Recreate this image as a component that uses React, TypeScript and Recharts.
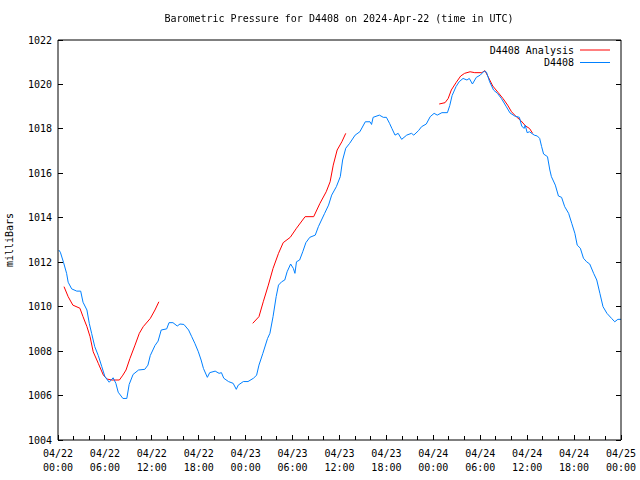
import React from 'react';
import { LineChart, Line, XAxis, YAxis, Legend } from 'recharts';

const FONT = '"DejaVu Sans Mono", "Liberation Mono", monospace';

// D4408 observed pressure (hours since 2024-04-22 00:00 UTC)
const stationHours = [
  0.1, 0.3, 0.7, 1.1, 1.3, 1.75, 2.4, 2.9, 3.2, 3.7, 4.0, 4.3, 4.7, 5.15, 5.6, 6.0, 6.55, 7.05, 7.4, 7.7,
  8.3, 8.8, 9.1, 9.6, 10.3, 11.1, 11.5, 11.8, 12.4, 12.8, 13.2, 13.9, 14.2, 14.7, 15.25, 15.6, 16.1, 16.7, 17.1, 17.5,
  17.95, 18.3, 18.6, 19.1, 19.4, 20.1, 20.6, 20.9, 21.2, 21.8, 22.4, 22.8, 23.05, 23.7, 24.3, 25.0, 25.4, 25.7, 26.2, 26.8,
  27.1, 27.5, 27.9, 28.2, 28.6, 29.0, 29.3, 29.75, 30.1, 30.3, 30.5, 30.9, 31.3, 31.7, 32.2, 32.9, 33.3, 33.7, 34.1, 34.6,
  35.0, 35.6, 36.1, 36.4, 36.8, 37.3, 38.0, 38.6, 39.3, 39.9, 40.1, 40.3, 41.1, 41.6, 42.0, 42.4, 42.7, 43.1, 43.5, 43.95,
  44.6, 45.2, 45.5, 46.1, 46.5, 47.1, 47.6, 48.1, 48.5, 49.1, 49.8, 50.1, 50.4, 50.9, 51.3, 51.8, 52.3, 52.6, 53.0, 53.5,
  54.0, 54.5, 54.8, 55.2, 55.7, 56.2, 56.7, 57.3, 57.8, 58.4, 59.0, 59.3, 59.6, 59.75, 60.0, 60.3, 60.9, 61.3, 61.6, 61.85,
  62.1, 62.6, 62.9, 63.1, 63.6, 64.0, 64.4, 64.8, 65.3, 65.7, 66.1, 66.4, 66.8, 67.2, 67.6, 68.0, 68.5, 68.9, 69.3, 69.7,
  70.2, 70.8, 71.2, 71.6, 72.0,
];
const stationPressure = [
  1012.55, 1012.45, 1012.0, 1011.5, 1011.1, 1010.8, 1010.7, 1010.7, 1010.2, 1009.85, 1009.25, 1008.8, 1008.2, 1007.8, 1007.3, 1006.85, 1006.6, 1006.8, 1006.55, 1006.15,
  1005.87, 1005.87, 1006.5, 1006.95, 1007.15, 1007.18, 1007.37, 1007.8, 1008.25, 1008.45, 1008.95, 1009.0, 1009.28, 1009.28, 1009.13, 1009.22, 1009.2, 1008.95, 1008.65, 1008.35,
  1007.97, 1007.6, 1007.22, 1006.82, 1007.03, 1007.1, 1007.0, 1007.03, 1006.78, 1006.63, 1006.55, 1006.28, 1006.47, 1006.63, 1006.63, 1006.78, 1006.92, 1007.37, 1007.9, 1008.57,
  1008.8, 1009.55, 1010.45, 1010.97, 1011.12, 1011.2, 1011.57, 1011.92, 1011.72, 1011.5, 1012.02, 1012.1, 1012.47, 1012.88, 1013.12, 1013.22, 1013.6, 1013.9, 1014.2, 1014.57,
  1015.02, 1015.4, 1015.85, 1016.6, 1017.13, 1017.35, 1017.72, 1017.87, 1018.32, 1018.32, 1018.2, 1018.52, 1018.62, 1018.52, 1018.52, 1018.25, 1018.02, 1017.72, 1017.8, 1017.53,
  1017.72, 1017.8, 1017.72, 1017.92, 1018.1, 1018.22, 1018.55, 1018.7, 1018.62, 1018.73, 1018.73, 1019.05, 1019.5, 1019.9, 1020.12, 1020.27, 1020.2, 1020.27, 1020.02, 1020.32,
  1020.42, 1020.6, 1020.55, 1020.12, 1019.75, 1019.6, 1019.37, 1019.02, 1018.72, 1018.58, 1018.52, 1018.13, 1018.02, 1018.17, 1017.83, 1017.87, 1017.72, 1017.68, 1017.57, 1017.2,
  1016.87, 1016.75, 1016.15, 1015.85, 1015.47, 1014.98, 1014.92, 1014.5, 1014.2, 1013.75, 1013.3, 1012.77, 1012.63, 1012.18, 1012.02, 1011.92, 1011.5, 1011.2, 1010.6, 1010.0,
  1009.7, 1009.47, 1009.32, 1009.43, 1009.43,
];

// D4408 Analysis (null marks a gap between analysis segments)
const analysisHours = [
  0.77, 1.3, 1.9, 2.8, 3.2, 3.7, 4.1, 4.5, 5.15, 5.8, 6.3, 6.9, 7.85, 8.3, 8.7, 9.2, 9.85, 10.4, 10.9, 11.8, 12.4, 12.9,
  18,
  24.9, 25.7, 26.25, 26.9, 27.5, 28.2, 28.8, 29.7, 30.5, 31.6, 32.7, 33.5, 34.3, 34.8, 35.2, 35.7, 36.3, 36.8,
  42,
  48.75, 49.5, 49.9, 50.3, 50.9, 51.5, 52.0, 52.7, 53.3, 54.2, 54.6, 55.0, 55.6, 56.3, 56.9, 57.5, 58.0, 58.6, 59.2, 59.8, 60.3, 60.7,
];
const analysisPressure: (number | null)[] = [
  1010.9, 1010.45, 1010.07, 1009.93, 1009.55, 1009.1, 1008.65, 1007.97, 1007.45, 1006.92, 1006.74, 1006.7, 1006.7, 1006.92, 1007.15, 1007.67, 1008.27, 1008.8, 1009.1, 1009.47, 1009.85, 1010.22,
  null,
  1009.25, 1009.55, 1010.22, 1010.97, 1011.72, 1012.4, 1012.88, 1013.12, 1013.53, 1014.05, 1014.05, 1014.65, 1015.17, 1015.62, 1016.37, 1017.05, 1017.42, 1017.8,
  null,
  1019.12, 1019.18, 1019.37, 1019.75, 1020.08, 1020.38, 1020.5, 1020.57, 1020.53, 1020.53, 1020.62, 1020.35, 1019.93, 1019.63, 1019.37, 1019.07, 1018.77, 1018.55, 1018.37, 1018.13, 1018.02, 1017.8,
];

const xTickHours = Array.from({ length: 37 }, (_, i) => i * 2);
const yTicks = [1004, 1006, 1008, 1010, 1012, 1014, 1016, 1018, 1020, 1022];
const dayLabels = ['04/22', '04/23', '04/24', '04/25'];
const timeLabels = ['00:00', '06:00', '12:00', '18:00'];
const titleText = 'Barometric Pressure for D4408 on 2024-Apr-22 (time in UTC)';
const yAxisLabel = 'milliBars';
const seriesNames = ['D4408 Analysis', 'D4408'];
const seriesColors = ['#ff0000', '#0080ff'];

const stationData = stationHours.map((h, i) => ({ h, p: stationPressure[i] }));
const analysisData = analysisHours.map((h, i) => ({ h, p: analysisPressure[i] }));

const BottomTick = (props: any) => {
  const { x, y, payload } = props;
  const h = payload.value as number;
  const major = h % 6 === 0;
  return (
    <g>
      <line x1={x} x2={x} y1={y} y2={y - (major ? 5 : 4)} stroke="#000" shapeRendering="crispEdges" />
      {major && (
        <text x={x} y={y} textAnchor="middle" fontSize={10} fontFamily={FONT} fill="#000">
          <tspan x={x} dy={16.5}>{dayLabels[Math.floor(h / 24)]}</tspan>
          <tspan x={x} dy={14}>{timeLabels[(h % 24) / 6]}</tspan>
        </text>
      )}
    </g>
  );
};

const TopTick = (props: any) => {
  const { x, y, payload } = props;
  const major = (payload.value as number) % 6 === 0;
  return <line x1={x} x2={x} y1={y} y2={y + (major ? 5 : 4)} stroke="#000" shapeRendering="crispEdges" />;
};

const LeftTick = (props: any) => {
  const { x, y, payload } = props;
  return (
    <g>
      <line x1={x} x2={x + 5} y1={y} y2={y} stroke="#000" shapeRendering="crispEdges" />
      <text x={x - 6} y={y} dy={3.5} textAnchor="end" fontSize={10} fontFamily={FONT} fill="#000">
        {payload.value}
      </text>
    </g>
  );
};

const RightTick = (props: any) => {
  const { x, y } = props;
  return <line x1={x} x2={x - 5} y1={y} y2={y} stroke="#000" shapeRendering="crispEdges" />;
};

const LegendBox = () => (
  <svg width={210} height={32} style={{ display: 'block' }}>
    {seriesNames.map((name, i) => (
      <g key={name}>
        <text x={166} y={10 + i * 12.5} dy={3.5} textAnchor="end" fontSize={10} fontFamily={FONT} fill="#000">
          {name}
        </text>
        <line x1={172} x2={202} y1={10 + i * 12.5} y2={10 + i * 12.5} stroke={seriesColors[i]} strokeWidth={1} />
      </g>
    ))}
  </svg>
);

export default function App() {
  return (
    <div
      style={{
        position: 'fixed',
        left: 0,
        top: 0,
        width: 640,
        height: 480,
        fontFamily: FONT,
        background: '#fff',
        overflow: 'visible',
      }}
    >
      <LineChart width={640} height={480} margin={{ top: 30, right: 9, bottom: 10, left: 8 }}>
        <XAxis
          xAxisId="b"
          dataKey="h"
          type="number"
          orientation="bottom"
          domain={[0, 72]}
          ticks={xTickHours}
          interval={0}
          height={30}
          tickSize={0}
          tickMargin={0}
          tickLine={false}
          tick={<BottomTick />}
          axisLine={{ stroke: '#000' }}
          allowDataOverflow
        />
        <XAxis
          xAxisId="t"
          type="number"
          orientation="top"
          domain={[0, 72]}
          ticks={xTickHours}
          interval={0}
          height={10}
          tickSize={0}
          tickMargin={0}
          tickLine={false}
          tick={<TopTick />}
          axisLine={{ stroke: '#000' }}
          allowDataOverflow
        />
        <YAxis
          yAxisId="l"
          type="number"
          domain={[1004, 1022]}
          ticks={yTicks}
          interval={0}
          width={50}
          tickSize={0}
          tickMargin={0}
          tickLine={false}
          tick={<LeftTick />}
          axisLine={{ stroke: '#000' }}
          allowDataOverflow
        />
        <YAxis
          yAxisId="r"
          type="number"
          orientation="right"
          domain={[1004, 1022]}
          ticks={yTicks}
          interval={0}
          width={10}
          tickSize={0}
          tickMargin={0}
          tickLine={false}
          tick={<RightTick />}
          axisLine={{ stroke: '#000' }}
          allowDataOverflow
        />
        <Line
          xAxisId="b"
          yAxisId="l"
          data={analysisData}
          dataKey="p"
          name={seriesNames[0]}
          stroke={seriesColors[0]}
          strokeWidth={1}
          dot={false}
          activeDot={false}
          connectNulls={false}
          isAnimationActive={false}
        />
        <Line
          xAxisId="b"
          yAxisId="l"
          data={stationData}
          dataKey="p"
          name={seriesNames[1]}
          stroke={seriesColors[1]}
          strokeWidth={1}
          dot={false}
          activeDot={false}
          isAnimationActive={false}
        />
        <Legend
          layout="horizontal"
          verticalAlign="middle"
          content={<LegendBox />}
          wrapperStyle={{ position: 'absolute', left: 408, top: 40, width: 210, height: 32 }}
        />
      </LineChart>
      <div
        style={{
          position: 'absolute',
          left: 0,
          top: 13,
          width: 678,
          textAlign: 'center',
          fontSize: 10,
          lineHeight: '12px',
          color: '#000',
          whiteSpace: 'nowrap',
          zIndex: 2,
        }}
      >
        {titleText}
      </div>
      <div
        style={{
          position: 'absolute',
          left: -20,
          top: 234,
          width: 60,
          height: 12,
          textAlign: 'center',
          fontSize: 10,
          lineHeight: '12px',
          whiteSpace: 'nowrap',
          transform: 'rotate(-90deg)',
          color: '#000',
          zIndex: 2,
        }}
      >
        {yAxisLabel}
      </div>
    </div>
  );
}
